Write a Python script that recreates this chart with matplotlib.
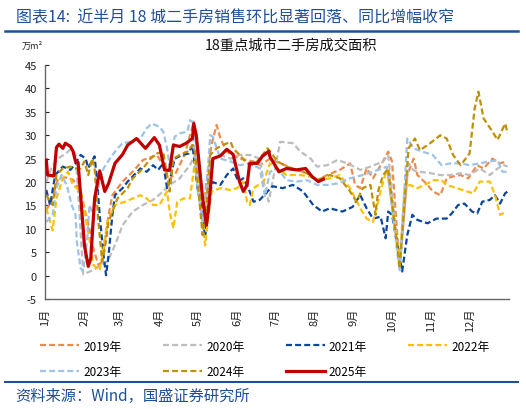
import matplotlib

matplotlib.use("Agg")
import matplotlib.pyplot as plt
from matplotlib.lines import Line2D

plt.rcParams["font.family"] = ["Noto Sans CJK SC", "DejaVu Sans"]
plt.rcParams["axes.unicode_minus"] = False

# 7-day average transaction area, 18 key cities (10k m²), x = day of year
DAYS_2019 = [1, 5, 10, 16, 22, 28, 31, 35, 38, 42, 45, 47, 50, 53, 61, 70, 77, 88, 93, 97, 103, 110,
             117, 120, 124, 127, 131, 135, 138, 143, 153, 164, 169, 177, 185, 195, 206, 214, 222, 232,
             240, 244, 248, 253, 258, 265, 270, 273, 279, 285, 290, 293, 301, 305, 311, 316, 321, 327,
             333, 340, 345, 350, 352, 358, 363]
AREA_2019 = [14.0, 16.0, 20.5, 21.0, 20.5, 18.0, 14.4, 10.0, 5.8, 2.3, 3.0, 7.3, 13.0, 17.2, 20.1, 22.5,
             24.7, 25.8, 23.6, 20.4, 22.0, 26.0, 32.9, 26.0, 12.2, 20.0, 28.0, 32.2, 29.3, 26.5, 25.0,
             24.4, 23.6, 25.0, 24.0, 22.9, 21.9, 20.4, 21.5, 22.6, 24.0, 19.4, 18.7, 22.9, 20.8, 24.0,
             26.5, 24.4, 1.6, 21.5, 25.0, 21.5, 19.4, 18.0, 17.2, 20.8, 21.2, 21.5, 20.8, 23.6, 22.9,
             24.4, 25.0, 24.0, 24.4]

DAYS_2020 = [1, 5, 10, 16, 20, 24, 27, 30, 38, 49, 55, 61, 69, 77, 85, 93, 98, 106, 114, 118, 122, 126,
             128, 132, 138, 146, 153, 161, 169, 172, 176, 185, 195, 201, 209, 214, 222, 230, 238, 248,
             256, 266, 270, 279, 286, 290, 295, 303, 311, 319, 327, 334, 342, 350, 356, 361, 364]
AREA_2020 = [20.0, 23.0, 25.0, 26.0, 27.0, 26.0, 14.0, 0.3, 1.2, 3.0, 6.5, 10.8, 13.7, 15.1, 16.2, 18.0,
             19.4, 20.8, 23.6, 25.8, 20.0, 13.0, 18.7, 25.0, 25.8, 25.0, 25.8, 25.8, 25.0, 20.0, 15.8,
             28.6, 28.3, 26.5, 25.0, 23.3, 23.6, 24.7, 24.0, 22.6, 23.3, 24.4, 25.8, 2.3, 24.0, 22.5,
             22.2, 21.9, 21.5, 21.5, 21.9, 21.5, 22.9, 21.5, 22.9, 23.6, 23.3]

DAYS_2021 = [1, 4, 8, 14, 20, 24, 28, 32, 34, 38, 39, 41, 43, 46, 48, 50, 53, 55, 61, 65, 69, 75, 80, 85,
             89, 93, 96, 98, 102, 108, 113, 116, 120, 124, 126, 127, 130, 132, 138, 143, 148, 152, 156,
             160, 164, 169, 175, 179, 187, 195, 203, 211, 218, 224, 234, 242, 248, 253, 258, 264, 268,
             270, 273, 281, 285, 289, 293, 301, 308, 316, 320, 325, 330, 336, 340, 344, 350, 354, 358,
             362, 364]
AREA_2021 = [18.3, 15.1, 21.5, 23.3, 22.6, 24.0, 25.8, 25.0, 23.0, 25.0, 25.5, 20.1, 13.0, 4.4, 0.1, 4.4,
             13.0, 17.2, 18.7, 20.1, 21.2, 22.9, 22.2, 23.6, 22.6, 24.0, 18.7, 20.1, 25.0, 25.8, 26.1,
             27.9, 18.7, 13.0, 8.0, 11.6, 18.0, 20.0, 19.4, 21.5, 22.9, 20.1, 20.8, 18.7, 15.8, 16.2,
             18.0, 19.1, 18.7, 19.4, 18.0, 15.1, 13.7, 14.4, 13.7, 14.7, 17.2, 14.4, 12.2, 12.6, 8.0,
             13.7, 13.0, 0.9, 8.7, 13.0, 11.9, 11.2, 12.2, 12.2, 13.3, 15.1, 15.4, 13.7, 13.3, 15.8,
             16.2, 17.2, 15.4, 17.6, 18.0]

DAYS_2022 = [1, 6, 9, 14, 18, 22, 28, 34, 38, 43, 46, 49, 55, 63, 69, 75, 80, 85, 90, 96, 98, 101, 104,
             109, 114, 118, 120, 124, 126, 128, 131, 138, 146, 151, 156, 159, 161, 164, 172, 177, 183,
             190, 201, 208, 216, 224, 232, 240, 248, 253, 258, 264, 269, 279, 283, 287, 293, 301, 305,
             312, 316, 324, 332, 337, 342, 350, 354, 358, 363]
AREA_2022 = [14.4, 9.7, 16.5, 20.8, 22.2, 19.4, 18.0, 9.4, 2.3, 1.2, 5.8, 11.5, 15.1, 15.8, 16.5, 17.2,
             16.5, 15.1, 15.1, 18.0, 13.7, 10.1, 15.8, 16.5, 16.5, 24.4, 20.1, 10.1, 6.5, 11.5, 18.0,
             18.7, 18.3, 18.7, 20.1, 15.8, 15.1, 18.7, 20.1, 24.0, 22.9, 21.5, 21.5, 21.2, 20.4, 20.8,
             21.5, 18.7, 14.4, 12.2, 11.5, 18.0, 22.9, 3.0, 18.7, 19.4, 18.7, 19.7, 20.4, 20.4, 19.4,
             18.7, 18.0, 17.6, 20.1, 20.1, 17.2, 13.0, 13.7]

DAYS_2023 = [1, 6, 9, 13, 17, 21, 24, 25, 28, 30, 33, 35, 38, 41, 43, 46, 51, 57, 61, 67, 75, 80, 84, 90,
             93, 96, 98, 102, 106, 112, 114, 116, 120, 124, 127, 130, 132, 138, 146, 153, 161, 169, 173,
             177, 183, 190, 198, 206, 214, 222, 230, 240, 250, 258, 269, 279, 285, 290, 297, 305, 312,
             319, 327, 334, 342, 350, 356, 360, 364]
AREA_2023 = [11.5, 13.0, 18.7, 21.5, 19.4, 15.1, 13.0, 7.3, 1.6, 0.9, 7.3, 15.1, 13.0, 18.0, 20.1, 22.9,
             25.0, 27.2, 28.3, 28.6, 29.3, 31.5, 32.5, 31.8, 30.8, 27.2, 23.6, 29.7, 30.4, 30.8, 33.2,
             32.9, 18.7, 11.5, 18.7, 30.0, 29.7, 25.0, 24.4, 23.6, 24.0, 22.9, 17.0, 22.2, 22.9, 20.4,
             20.1, 20.4, 19.4, 19.4, 19.7, 20.8, 21.5, 22.2, 23.3, 0.9, 29.3, 27.2, 26.5, 25.8, 23.6,
             24.0, 24.0, 23.6, 24.0, 24.4, 24.7, 22.2, 22.2]

DAYS_2024 = [1, 6, 9, 14, 20, 24, 28, 31, 34, 37, 39, 42, 45, 47, 50, 54, 57, 65, 69, 77, 83, 88, 93, 96,
             98, 101, 106, 112, 116, 118, 122, 124, 127, 130, 135, 140, 146, 148, 153, 159, 164, 169,
             175, 183, 190, 198, 206, 214, 224, 232, 240, 245, 250, 256, 260, 262, 266, 270, 279, 286,
             291, 295, 303, 311, 316, 321, 327, 334, 338, 341, 345, 352, 356, 362, 364]
AREA_2024 = [17.2, 15.1, 21.5, 22.9, 23.3, 22.9, 22.9, 24.4, 21.5, 25.0, 22.9, 11.5, 3.0, 5.8, 11.5, 14.4,
             16.5, 18.7, 20.8, 22.9, 25.0, 26.1, 26.5, 21.5, 18.0, 25.0, 25.8, 26.5, 27.9, 26.5, 14.4,
             8.7, 15.1, 25.8, 27.2, 27.9, 28.6, 27.2, 25.8, 24.0, 23.6, 25.0, 27.2, 24.4, 23.3, 22.6,
             21.9, 20.4, 21.5, 20.8, 18.0, 15.8, 18.7, 19.4, 13.0, 18.0, 21.5, 22.9, 1.6, 27.2, 29.3,
             26.8, 28.3, 30.0, 29.3, 25.8, 23.6, 26.1, 35.7, 39.3, 33.6, 30.8, 29.0, 32.5, 30.4]

DAYS_2025 = [1, 2, 7, 9, 11, 14, 16, 20, 22, 24, 26, 31, 34, 36, 39, 43, 47, 50, 55, 61, 65, 72, 79, 86,
             90, 94, 98, 101, 106, 111, 116, 117, 119, 124, 127, 129, 132, 138, 143, 148, 153, 156, 159,
             161, 167, 171, 176, 177, 184, 190, 198, 205, 210, 215, 219]
AREA_2025 = [24.7, 21.5, 21.3, 27.4, 28.1, 27.2, 28.3, 27.6, 26.6, 24.4, 24.2, 6.5, 2.0, 3.7, 16.5, 22.4,
             18.0, 19.7, 24.0, 25.9, 27.9, 29.3, 27.2, 29.5, 27.9, 22.6, 22.5, 27.9, 27.6, 28.3, 29.3,
             32.5, 30.0, 16.5, 10.8, 15.1, 25.0, 25.6, 27.0, 25.9, 20.1, 18.0, 19.4, 24.0, 24.0, 25.5,
             26.6, 25.4, 22.2, 22.9, 22.6, 22.9, 21.2, 20.1, 20.6]

MONTH_START_DAYS = [0, 31, 59, 90, 120, 151, 181, 212, 243, 273, 304, 334]
MONTH_LABELS = [f"{m}月" for m in range(1, 13)]
Y_TICKS = list(range(-5, 50, 5))

SERIES = (
    ("2019年", DAYS_2019, AREA_2019, "#F08A4B"),
    ("2020年", DAYS_2020, AREA_2020, "#BDBDBD"),
    ("2021年", DAYS_2021, AREA_2021, "#0B469E"),
    ("2022年", DAYS_2022, AREA_2022, "#FFC000"),
    ("2023年", DAYS_2023, AREA_2023, "#9DC3E6"),
    ("2024年", DAYS_2024, AREA_2024, "#BF9000"),
)
COLOR_2025 = "#C00000"
TITLE_BLUE = "#1F4E9A"
DASH = (0, (2.7, 1.4))

fig = plt.figure(figsize=(5.26, 4.10), dpi=100)
ax = fig.add_axes([0.0856, 0.268, 0.882, 0.571])

handles = []
for label, days, values, color in SERIES:
    (line,) = ax.plot(days, values, color=color, linewidth=1.6, linestyle=DASH, label=label)
    handles.append(line)
(line,) = ax.plot(DAYS_2025, AREA_2025, color=COLOR_2025, linewidth=2.3, label="2025年", zorder=5)
handles.append(line)

ax.set_xlim(0, 365)
ax.set_ylim(-5, 45)
ax.set_yticks(Y_TICKS)
ax.set_xticks(MONTH_START_DAYS, MONTH_LABELS, rotation=90)
ax.tick_params(axis="x", length=0, pad=6, labelsize=8, colors="#222222")
ax.tick_params(axis="y", direction="in", length=3, pad=6, labelsize=8, colors="#222222")
for side in ("top", "right"):
    ax.spines[side].set_visible(False)
for side in ("left", "bottom"):
    ax.spines[side].set_color("#666666")
    ax.spines[side].set_linewidth(1.0)

fig.text(0.030, 0.955, "图表14:  近半月 18 城二手房销售环比显著回落、同比增幅收窄",
         fontsize=11.5, color=TITLE_BLUE, style="italic", va="center", ha="left")
fig.add_artist(Line2D([0.01, 0.985], [0.922, 0.922], color=TITLE_BLUE, linewidth=1.8))
fig.text(0.042, 0.888, "万m²", fontsize=6.5, color="#222222", va="center", ha="left")
fig.text(0.553, 0.888, "18重点城市二手房成交面积", fontsize=10.3, color="#111111", va="center", ha="center")

# matplotlib fills legend columns first; reorder so the rows read 2019..2022 / 2023..2025
order = [0, 4, 1, 5, 2, 6, 3]
fig.legend(handles=[handles[i] for i in order], loc="upper left", bbox_to_anchor=(0.068, 0.181), ncol=4,
           frameon=False, fontsize=8.5, handlelength=3.3, handletextpad=0.35, columnspacing=3.5,
           labelspacing=1.1, borderaxespad=0)

fig.add_artist(Line2D([0.01, 0.985], [0.066, 0.066], color=TITLE_BLUE, linewidth=1.5))
fig.text(0.030, 0.032, "资料来源：Wind，国盛证券研究所", fontsize=11, color=TITLE_BLUE,
         style="italic", va="center", ha="left")

fig.savefig("out.png", dpi=100, facecolor="white")
